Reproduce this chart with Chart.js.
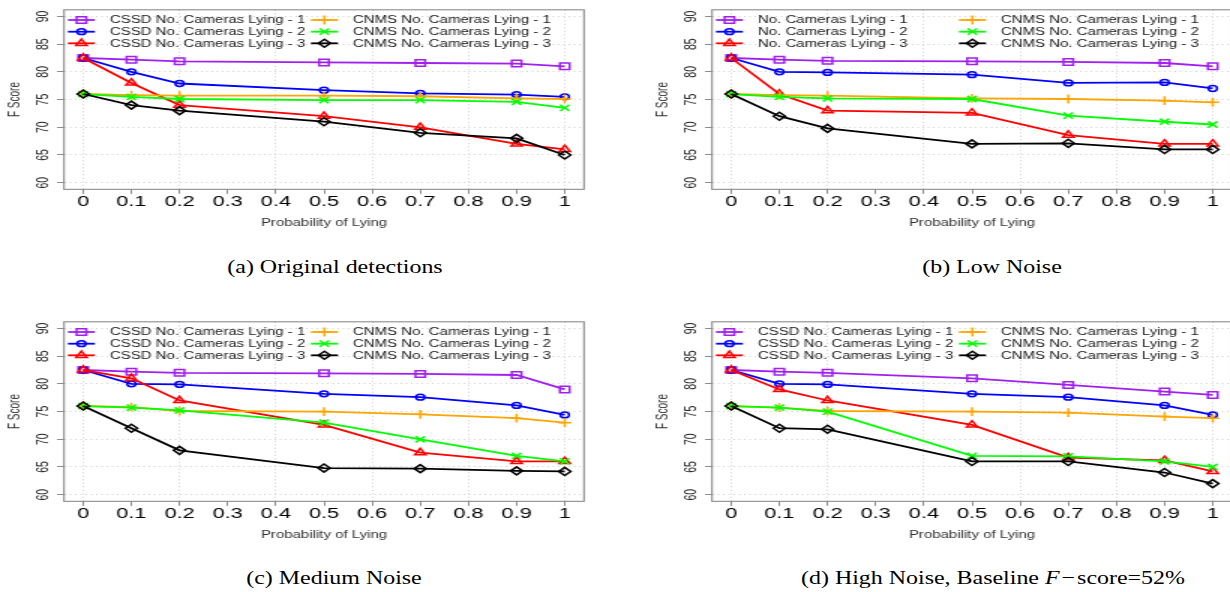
<!DOCTYPE html>
<html><head><meta charset="utf-8">
<script src="https://cdn.jsdelivr.net/npm/chart.js@4/dist/chart.umd.min.js"></script>
<style>
html,body{margin:0;padding:0;background:#fff;width:1230px;height:592px;overflow:hidden;position:relative}
.panel{position:absolute;transform-origin:0 0;transform:scaleX(1.5)}
.panel canvas{display:block}
.cap{position:absolute;font-family:"Liberation Serif","Times New Roman",serif;font-size:19px;color:#000;white-space:nowrap;transform:translate(-50%,-50%) scaleX(1.26)}
</style></head><body>
<div class="panel" style="left:0;top:0"><canvas id="ca" width="410" height="240"></canvas></div>
<div class="panel" style="left:648px;top:0"><canvas id="cb" width="410" height="240"></canvas></div>
<div class="panel" style="left:0;top:311.7px"><canvas id="cc" width="410" height="240"></canvas></div>
<div class="panel" style="left:648px;top:311.7px"><canvas id="cd" width="410" height="240"></canvas></div>
<div class="cap" style="left:335px;top:267px">(a) Original detections</div>
<div class="cap" style="left:992px;top:267px">(b) Low Noise</div>
<div class="cap" style="left:334px;top:578px">(c) Medium Noise</div>
<div class="cap" style="left:993px;top:578px">(d) High Noise, Baseline <i>F</i>&#8202;&#8722;&#8202;score=52%</div>
<script>
// ---- data ----
const xValues = [0, 0.1, 0.2, 0.5, 0.7, 0.9, 1];
const xTicks = [0, 0.1, 0.2, 0.3, 0.4, 0.5, 0.6, 0.7, 0.8, 0.9, 1];
const xTickLabels = ['0', '0.1', '0.2', '0.3', '0.4', '0.5', '0.6', '0.7', '0.8', '0.9', '1'];
const yTicks = [60, 65, 70, 75, 80, 85, 90];
const yTickLabels = ['60', '65', '70', '75', '80', '85', '90'];

const labelsCssd = ['CSSD No. Cameras Lying - 1', 'CSSD No. Cameras Lying - 2', 'CSSD No. Cameras Lying - 3',
                    'CNMS No. Cameras Lying - 1', 'CNMS No. Cameras Lying - 2', 'CNMS No. Cameras Lying - 3'];
const labelsPlain = ['No. Cameras Lying - 1', 'No. Cameras Lying - 2', 'No. Cameras Lying - 3',
                     'CNMS No. Cameras Lying - 1', 'CNMS No. Cameras Lying - 2', 'CNMS No. Cameras Lying - 3'];

// (a) Original detections
const aCssd1 = [82.5, 82.2, 81.9, 81.7, 81.6, 81.5, 81.0];
const aCssd2 = [82.5, 80.0, 77.9, 76.7, 76.1, 75.9, 75.5];
const aCssd3 = [82.5, 78.0, 74.0, 72.0, 70.0, 67.0, 66.0];
const aCnms1 = [76.0, 75.8, 75.7, 75.7, 75.6, 75.2, 75.1];
const aCnms2 = [76.0, 75.5, 75.1, 74.9, 74.9, 74.6, 73.5];
const aCnms3 = [76.0, 74.0, 73.0, 71.0, 69.0, 68.0, 65.0];
// (b) Low Noise
const bCssd1 = [82.5, 82.2, 82.0, 81.9, 81.8, 81.6, 81.0];
const bCssd2 = [82.5, 80.0, 79.9, 79.5, 78.0, 78.1, 77.0];
const bCssd3 = [82.5, 76.0, 73.0, 72.6, 68.6, 67.0, 67.0];
const bCnms1 = [76.0, 75.8, 75.7, 75.2, 75.1, 74.8, 74.5];
const bCnms2 = [76.0, 75.5, 75.2, 75.1, 72.1, 71.0, 70.5];
const bCnms3 = [76.0, 72.0, 69.8, 67.0, 67.1, 66.0, 66.0];
// (c) Medium Noise
const cCssd1 = [82.5, 82.2, 82.0, 81.9, 81.8, 81.6, 79.0];
const cCssd2 = [82.5, 80.0, 79.9, 78.2, 77.6, 76.1, 74.4];
const cCssd3 = [82.5, 81.0, 77.0, 72.6, 67.6, 66.0, 66.0];
const cCnms1 = [76.0, 75.8, 75.1, 75.0, 74.5, 73.8, 73.0];
const cCnms2 = [76.0, 75.7, 75.2, 73.0, 70.0, 67.0, 66.0];
const cCnms3 = [76.0, 72.0, 68.0, 64.8, 64.7, 64.3, 64.2];
// (d) High Noise
const dCssd1 = [82.5, 82.2, 82.0, 81.0, 79.8, 78.6, 78.0];
const dCssd2 = [82.5, 80.0, 79.9, 78.2, 77.6, 76.1, 74.4];
const dCssd3 = [82.5, 79.0, 77.0, 72.6, 66.7, 66.2, 64.2];
const dCnms1 = [76.0, 75.7, 75.1, 75.0, 74.8, 74.1, 73.8];
const dCnms2 = [76.0, 75.7, 75.0, 67.0, 66.9, 66.0, 65.0];
const dCnms3 = [76.0, 72.0, 71.8, 66.0, 66.0, 64.0, 62.0];

// ---- styles ----
const seriesStyles = [
  {color: '#A020F0', pointStyle: 'rect', radius: 4.6},
  {color: '#0000FF', pointStyle: 'circle', radius: 2.9},
  {color: '#FF0000', pointStyle: 'triangle', radius: 4.2},
  {color: '#FFA500', pointStyle: 'cross', radius: 4.4},
  {color: '#00FF00', pointStyle: 'crossRot', radius: 4.4},
  {color: '#000000', pointStyle: 'rectRot', radius: 4.0}
];

Chart.defaults.font.family = '"Liberation Sans", Arial, Helvetica, sans-serif';
Chart.defaults.animation = false;

const frameAndLegend = {
  id: 'frameAndLegend',
  afterDatasetsDraw(chart) {
    const ctx = chart.ctx, a = chart.chartArea;
    ctx.save();
    ctx.strokeStyle = '#8c8c8c';
    ctx.lineWidth = 1.1;
    ctx.strokeRect(a.left, a.top, a.right - a.left, a.bottom - a.top);
    // legend (two columns, three rows), inside plot
    const rows = [20, 31.7, 43.3];
    const cols = [{l0: 45.3, l1: 63.3, t: 73.3}, {l0: 207.3, l1: 225.3, t: 235.3}];
    chart.data.datasets.forEach((ds, i) => {
      const c = cols[i < 3 ? 0 : 1], y = rows[i % 3];
      ctx.strokeStyle = ds.borderColor;
      ctx.lineWidth = 1.8;
      ctx.beginPath(); ctx.moveTo(c.l0, y); ctx.lineTo(c.l1, y); ctx.stroke();
      ctx.fillStyle = 'rgba(0,0,0,0)';
      ctx.lineWidth = ds.pointBorderWidth;
      Chart.helpers.drawPoint(ctx, {pointStyle: ds.pointStyle, radius: ds.pointRadius, borderWidth: ds.pointBorderWidth, rotation: 0}, (c.l0 + c.l1) / 2, y);
      ctx.fillStyle = '#1a1a1a';
      ctx.font = '10px "Liberation Sans", Arial, sans-serif';
      ctx.textAlign = 'left'; ctx.textBaseline = 'middle';
      ctx.fillText(ds.label, c.t, y + 0.5);
    });
    ctx.restore();
  }
};

function makeChart(id, labels, series) {
  const datasets = series.map((vals, i) => ({
    label: labels[i],
    data: vals.map((v, k) => ({x: xValues[k], y: v})),
    borderColor: seriesStyles[i].color,
    backgroundColor: 'rgba(0,0,0,0)',
    pointBackgroundColor: 'rgba(0,0,0,0)',
    pointBorderColor: seriesStyles[i].color,
    pointStyle: seriesStyles[i].pointStyle,
    pointRadius: seriesStyles[i].radius,
    pointBorderWidth: 1.5,
    borderWidth: 1.8,
    tension: 0,
    order: -i
  }));
  return new Chart(document.getElementById(id), {
    type: 'line',
    data: {datasets},
    plugins: [frameAndLegend],
    options: {
      responsive: false,
      devicePixelRatio: 1,
      layout: {padding: {top: 7, left: 0, right: 20.67, bottom: 10.67}},
      plugins: {legend: {display: false}, tooltip: {enabled: false}},
      scales: {
        x: {
          type: 'linear', min: -0.04, max: 1.04,
          afterBuildTicks: s => { s.ticks = xTicks.map(v => ({value: v})); },
          afterFit: s => { s.height = 40; },
          ticks: {
            callback: (v, idx) => xTickLabels[idx],
            color: '#000', padding: 0, maxRotation: 0, minRotation: 0,
            font: {size: 14.5, lineHeight: 1.1}
          },
          grid: {
            color: c => (c.tick && Math.round(c.tick.value * 10) % 2 === 0) ? '#d0d0d0' : 'rgba(0,0,0,0)',
            tickColor: '#8c8c8c', tickLength: 4.5, lineWidth: 1, tickWidth: 1
          },
          border: {display: false, dash: [1, 2.5]},
          title: {display: true, text: 'Probability of Lying', color: '#333', font: {size: 10}, padding: {top: 2.6, bottom: 0}}
        },
        y: {
          type: 'linear', min: 58.8, max: 91.2,
          afterBuildTicks: s => { s.ticks = yTicks.map(v => ({value: v})); },
          afterFit: s => { s.width = 42.67; },
          ticks: {
            callback: (v, idx) => yTickLabels[idx],
            color: '#222', minRotation: 90, maxRotation: 90, crossAlign: 'center', padding: 3.5,
            font: {size: 10.5}
          },
          grid: {color: '#d0d0d0', tickColor: '#8c8c8c', tickLength: 4.67, lineWidth: 1, tickWidth: 1},
          border: {display: false, dash: [1, 2.5]},
          title: {display: true, text: 'F Score', color: '#333', font: {size: 10}, padding: {top: 4, bottom: 0}}
        }
      }
    }
  });
}

makeChart('ca', labelsCssd, [aCssd1, aCssd2, aCssd3, aCnms1, aCnms2, aCnms3]);
makeChart('cb', labelsPlain, [bCssd1, bCssd2, bCssd3, bCnms1, bCnms2, bCnms3]);
makeChart('cc', labelsCssd, [cCssd1, cCssd2, cCssd3, cCnms1, cCnms2, cCnms3]);
makeChart('cd', labelsCssd, [dCssd1, dCssd2, dCssd3, dCnms1, dCnms2, dCnms3]);
</script>
</body></html>
